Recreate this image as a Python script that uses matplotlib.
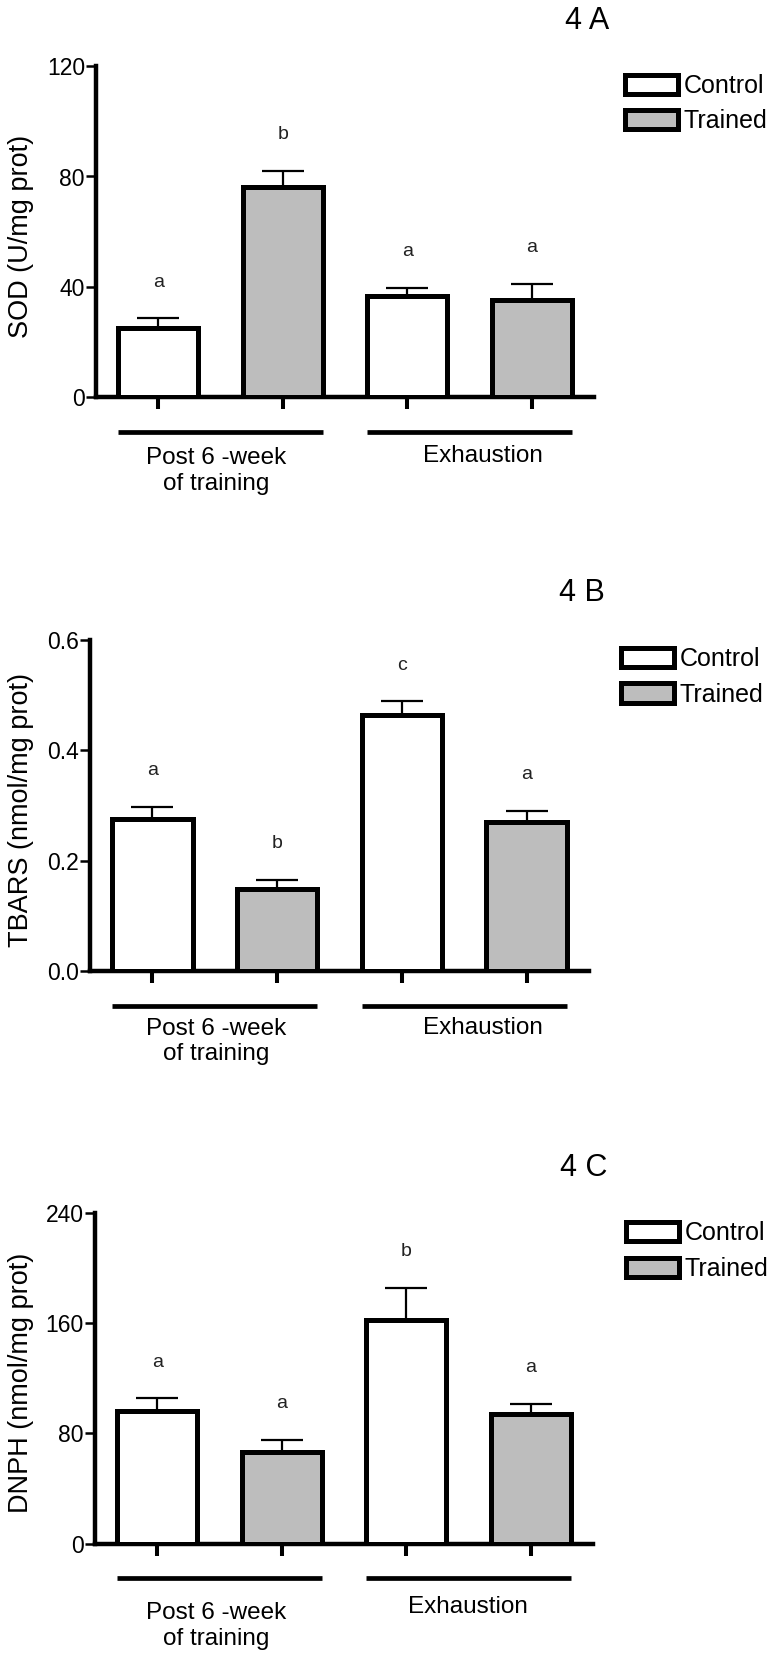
import numpy as np
import matplotlib
matplotlib.use("Agg")
import matplotlib.pyplot as plt
from matplotlib.patches import Patch

# ==========================================
# DATA
# ==========================================
groups = ["Post 6 -week\nof training", "Exhaustion"]
series = ["Control", "Trained"]

sod_mean = [25.0, 76.1, 36.9, 35.2]
sod_err = [3.6, 5.9, 2.9, 6.0]
sod_letters = ["a", "b", "a", "a"]

tbars_mean = [0.275, 0.148, 0.464, 0.270]
tbars_err = [0.0225, 0.0175, 0.025, 0.0205]
tbars_letters = ["a", "b", "c", "a"]

dnph_mean = [96.5, 66.7, 162.4, 93.9]
dnph_err = [9.0, 8.6, 23.3, 7.7]
dnph_letters = ["a", "a", "b", "a"]
# ==========================================

W, H = 775, 1660
plt.rcParams["font.family"] = ["Liberation Sans", "DejaVu Sans"]

GRAY = "#bdbdbd"
EDGE_LW = 3.6
AXIS_LW = 3.2

# panel layout in pixels: left, right, y of zero, y of top, title x/y, legend x/y,
# group-label offsets below the axis, exhaustion label x
panels = [
    dict(title="4 A", ylabel="SOD (U/mg prot)", mean=sod_mean, err=sod_err,
         letters=sod_letters, ymax=120, yticks=[0, 40, 80, 120], fmt="{:.0f}",
         box=(96, 594, 397.5, 66), title_xy=(587, 21), leg_xy=(625, 74),
         lab=(35, 73.5, 59), exh_x=483),
    dict(title="4 B", ylabel="TBARS (nmol/mg prot)", mean=tbars_mean, err=tbars_err,
         letters=tbars_letters, ymax=0.6, yticks=[0.0, 0.2, 0.4, 0.6], fmt="{:.1f}",
         box=(90, 589, 971, 640), title_xy=(582, 593), leg_xy=(621, 647.5),
         lab=(35, 70.5, 57), exh_x=483),
    dict(title="4 C", ylabel="DNPH (nmol/mg prot)", mean=dnph_mean, err=dnph_err,
         letters=dnph_letters, ymax=240, yticks=[0, 80, 160, 240], fmt="{:.0f}",
         box=(95, 593, 1543.5, 1213), title_xy=(584, 1168), leg_xy=(626, 1221.5),
         lab=(34, 82.5, 63), exh_x=468),
]

fig = plt.figure(figsize=(W / 100, H / 100), dpi=100)

x = np.arange(4)
colors = ["white", GRAY, "white", GRAY]

for p in panels:
    left, right, y0, ytop = p["box"]
    ax = fig.add_axes([left / W, 1 - y0 / H, (right - left) / W, (y0 - ytop) / H])
    ax_w = right - left
    ax_h = y0 - ytop

    # error bars first (upper only), then bars on top
    ax.errorbar(x, p["mean"], yerr=[np.zeros(4), p["err"]], fmt="none",
                ecolor="black", elinewidth=1.6, capsize=15, capthick=1.6, zorder=2)
    ax.bar(x, p["mean"], width=0.645, color=colors, edgecolor="black",
           linewidth=EDGE_LW, zorder=3)

    # significance letters
    for xi, m, e, t in zip(x, p["mean"], p["err"], p["letters"]):
        ax.annotate(t, (xi, m + e), xytext=(0, 26), textcoords="offset points",
                    ha="center", va="center", fontsize=14, color="#222222")

    ax.set_xlim(-0.5, 3.5)
    ax.set_ylim(0, p["ymax"])
    ax.set_yticks(p["yticks"])
    ax.set_yticklabels([p["fmt"].format(v) for v in p["yticks"]])
    ax.set_xticks(x)
    ax.set_xticklabels([])

    for s in ["top", "right"]:
        ax.spines[s].set_visible(False)
    for s in ["left", "bottom"]:
        ax.spines[s].set_linewidth(AXIS_LW)
    ax.tick_params(axis="y", direction="out", length=7.2, width=1.8, pad=0.8,
                   labelsize=16.5)
    ax.tick_params(axis="x", direction="out", length=8.6, width=2.9)

    ax.text((21 - left) / ax_w, 0.485, p["ylabel"], transform=ax.transAxes,
            rotation=90, ha="center", va="center", fontsize=19.5)

    # group underlines and labels
    line_off, post_off, exh_off = p["lab"]
    trans = ax.get_xaxis_transform()
    for c in [0.5, 2.5]:
        ax.plot([c - 0.82, c + 0.82], [-line_off / ax_h] * 2, color="black",
                lw=3.4, transform=trans, clip_on=False, solid_capstyle="butt")
    ax.text((216 - left) / ax_w, -post_off / ax_h, groups[0], transform=ax.transAxes,
            ha="center", va="center", fontsize=17.5, linespacing=1.2)
    ax.text((p["exh_x"] - left) / ax_w, -exh_off / ax_h, groups[1],
            transform=ax.transAxes, ha="center", va="center", fontsize=17.5)

    # legend
    handles = [Patch(facecolor="white", edgecolor="black", linewidth=EDGE_LW),
               Patch(facecolor=GRAY, edgecolor="black", linewidth=EDGE_LW)]
    lx, ly = p["leg_xy"]
    ax.legend(handles, series, loc="upper left", bbox_to_anchor=(lx / W, 1 - ly / H),
              bbox_transform=fig.transFigure, frameon=False, fontsize=18,
              handlelength=2.1, handleheight=0.8, handletextpad=0.25,
              labelspacing=0.45, borderpad=0, borderaxespad=0)

    tx, ty = p["title_xy"]
    fig.text(tx / W, 1 - ty / H, p["title"], ha="center", va="center", fontsize=22)

fig.savefig("out.png", dpi=100)
